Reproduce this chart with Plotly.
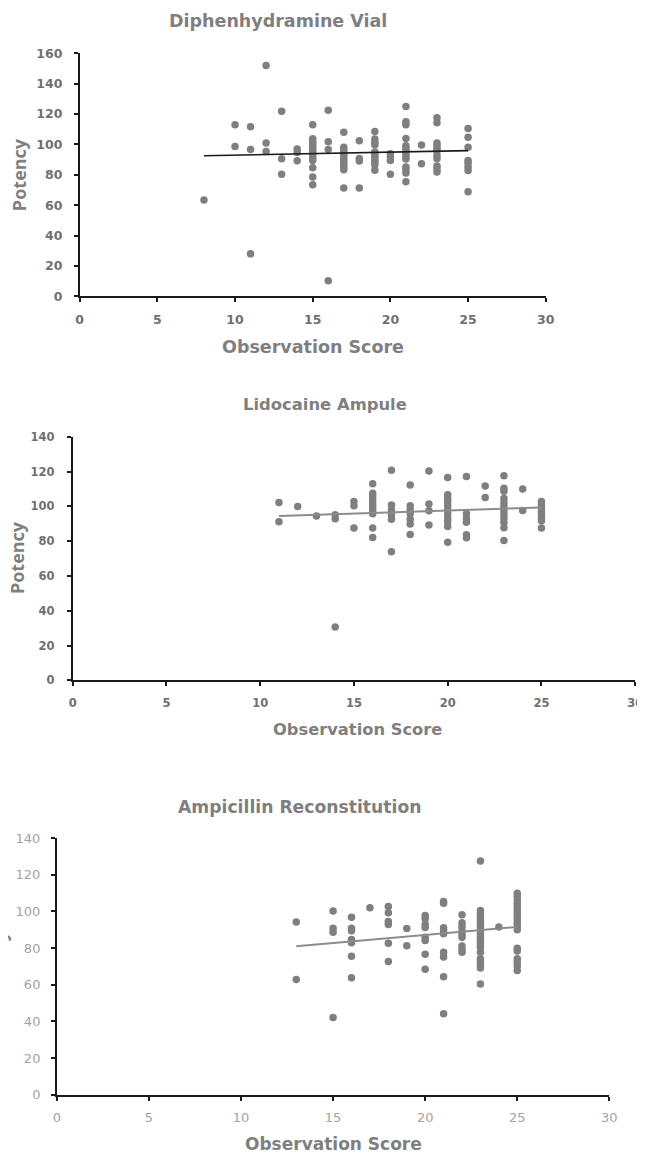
import plotly.graph_objects as go

W, H = 645, 1153

# ---------------- data ----------------
diph_x = [8, 10, 10, 11, 11, 11, 12, 12, 12, 13, 13, 13, 14, 14, 14,
          15, 15, 15, 15, 15, 15, 15, 15, 15, 15, 15, 15, 15, 15,
          16, 16, 16, 16,
          17, 17, 17, 17, 17, 17, 17, 17, 17, 17, 17, 17,
          18, 18, 18, 18,
          19, 19, 19, 19, 19, 19, 19, 19, 19, 19, 19,
          20, 20, 20, 20,
          21, 21, 21, 21, 21, 21, 21, 21, 21, 21, 21, 21, 21, 21,
          22, 22,
          23, 23, 23, 23, 23, 23, 23, 23, 23, 23, 23,
          25, 25, 25, 25, 25, 25, 25, 25]
diph_y = [63.5, 113, 98.7, 111.6, 96.7, 28, 151.9, 100.9, 95.4, 121.9, 90.6, 80.3, 97, 94.7, 89.3,
          113, 103.7, 102, 100.4, 98.7, 97, 95.6, 93.9, 92.3, 90.6, 89.5, 84.7, 78.6, 73.5,
          122.5, 101.8, 96.7, 10.3,
          108, 98.2, 96.7, 95, 93.2, 91.7, 89.9, 88.2, 86.4, 85.1, 83.4, 71.3,
          102.4, 90.8, 89.1, 71.3,
          108.5, 103.5, 101.5, 99.8, 95, 93.2, 91.7, 89.9, 88.2, 86.4, 83,
          93.9, 92.1, 89.5, 80.3,
          125, 114.9, 113, 103.9, 99.1, 97.4, 95.6, 93.9, 92.1, 90.4, 85.1, 83.4, 81.2, 75.5,
          99.6, 87.3,
          117.5, 114.2, 100.9, 99.1, 97.4, 95.6, 92.8, 90.6, 85.8, 84, 81.8,
          110.5, 104.8, 98.2, 89.5, 87.7, 85.1, 82.9, 68.9]
diph_trend_x = [8, 25]
diph_trend_y = [92.6, 95.9]

lido_x = [11, 11, 12, 13, 14, 14, 14, 15, 15, 15,
          16, 16, 16, 16, 16, 16, 16, 16, 16, 16,
          17, 17, 17, 17, 17, 17,
          18, 18, 18, 18, 18, 18, 18,
          19, 19, 19, 19,
          20, 20, 20, 20, 20, 20, 20, 20, 20, 20, 20,
          21, 21, 21, 21, 21, 21,
          22, 22,
          23, 23, 23, 23, 23, 23, 23, 23, 23, 23, 23, 23,
          24, 24,
          25, 25, 25, 25, 25, 25, 25, 25]
lido_y = [102.2, 91.1, 99.9, 94.5, 95.1, 92.8, 30.6, 102.8, 100.3, 87.5,
          113, 107.5, 105.6, 103.3, 101.4, 99.5, 97.6, 95.7, 87.5, 82.1,
          120.7, 100.8, 98, 95.1, 92.6, 73.9,
          112.2, 100.3, 98, 95.7, 92.6, 89.8, 83.8,
          120.3, 101.4, 97.4, 89.2,
          116.5, 106.6, 104.7, 102.8, 100.3, 98, 95.7, 93.2, 91.3, 88.4, 79.3,
          117.1, 95.7, 93.2, 90.9, 83.6, 81.9,
          111.7, 105,
          117.6, 110.4, 108.7, 104.5, 102.2, 99.9, 97.6, 95.3, 93, 90.7, 87.7, 80.4,
          110, 97.6,
          102.8, 100.8, 98.9, 97, 95.1, 93.2, 91.7, 87.5]
lido_trend_x = [11, 25]
lido_trend_y = [94.5, 99.3]

ampi_x = [13, 13, 15, 15, 15, 15,
          16, 16, 16, 16, 16, 16, 16,
          17,
          18, 18, 18, 18, 18, 18,
          19, 19,
          20, 20, 20, 20, 20, 20, 20, 20,
          21, 21, 21, 21, 21, 21, 21, 21, 21,
          22, 22, 22, 22, 22, 22, 22, 22, 22,
          23, 23, 23, 23, 23, 23, 23, 23, 23, 23, 23, 23, 23, 23, 23, 23, 23, 23, 23,
          24,
          25, 25, 25, 25, 25, 25, 25, 25, 25, 25, 25, 25, 25, 25, 25, 25, 25, 25]
ampi_y = [94.2, 62.9, 100.2, 90.9, 88.7, 42.2,
          96.9, 90.9, 89.5, 84.7, 82.9, 75.6, 63.8,
          102,
          102.7, 99.3, 94.5, 92.9, 82.7, 72.7,
          90.7, 81.3,
          97.8, 96, 92.9, 91.3, 86, 84.2, 76.7, 68.5,
          105.5, 104.5, 91.1, 89.5, 87.8, 77.8, 75.1, 64.4, 44.2,
          98.2, 93.8, 91.8, 89.5, 87.6, 86, 81.1, 79.3, 77.8,
          127.6, 100.5, 98.7, 96.9, 95.1, 93.3, 91.5, 89.6, 87.8, 86, 84.2, 82.4, 80.5, 77.8, 74.2, 72.4, 70.5, 69.1, 60.5,
          91.5,
          110, 108.2, 106.4, 104.5, 102.7, 100.9, 99.1, 97.3, 95.5, 93.6, 91.8, 90, 80, 78.5, 74.2, 72.4, 70.2, 67.8]
ampi_trend_x = [13, 25]
ampi_trend_y = [81.0, 91.6]

titles = ["Diphenhydramine Vial", "Lidocaine Ampule", "Ampicillin Reconstitution"]
x_title = "Observation Score"
y_title = "Potency"
x_ticks = [0, 5, 10, 15, 20, 25, 30]

# ---------------- layout helpers ----------------
HFONT = "DejaVu Sans"   # wide face for horizontal text (reference is stretched sideways)
VFONT = "Open Sans"
MARK = "#7f7f7f"
TXT = "#7f7f7f"

# calibration of the photographed page: screen px = A * figure px + B
AX, BX = 0.986, 9.9
AY, BY = 0.9875, 15.7


def px_x(p):
    return ((p - BX) / AX) / W


def px_y(p):
    return 1 - ((p - BY) / AY) / H


panels = [
    # x, y, trend x, trend y, trend colour, trend width, ymax, x-domain px, y-domain px (bottom, top),
    # tick colour, tick size, bold, x standoff, y standoff
    (diph_x, diph_y, diph_trend_x, diph_trend_y, "#1a1a1a", 1.6, 160, (78, 547), (296.5, 53),
     "#707070", 12.5, True, 7, 9),
    (lido_x, lido_y, lido_trend_x, lido_trend_y, "#8c8c8c", 2.0, 140, (71, 637), (681, 437),
     "#707070", 11.5, True, 7, 10),
    (ampi_x, ampi_y, ampi_trend_x, ampi_trend_y, "#8c8c8c", 2.0, 140, (55, 611), (1096, 839),
     "#a3a3a3", 13, False, 6, 8),
]

fig = go.Figure()
layout = dict(width=W, height=H, margin=dict(l=0, r=0, t=0, b=0),
              paper_bgcolor="white", plot_bgcolor="white", showlegend=False,
              font=dict(family=HFONT))

for i, (xs, ys, tx, ty, tc, tw, ymax, xd, yd, tickc, tsize, bold, xso, yso) in enumerate(panels):
    n = "" if i == 0 else str(i + 1)
    fig.add_trace(go.Scatter(x=xs, y=ys, mode="markers", xaxis="x" + n, yaxis="y" + n,
                             marker=dict(size=7.5, color=MARK), hoverinfo="skip", cliponaxis=False))
    fig.add_trace(go.Scatter(x=tx, y=ty, mode="lines", xaxis="x" + n, yaxis="y" + n,
                             line=dict(color=tc, width=tw), hoverinfo="skip"))
    tickfont = dict(family=HFONT, size=tsize, color=tickc)
    if bold:
        tickfont["weight"] = "bold"
    layout["xaxis" + n] = dict(domain=[px_x(xd[0]), px_x(xd[1])], anchor="y" + n,
                               range=[0, 30], tickvals=x_ticks, showgrid=False, zeroline=False,
                               showline=True, linecolor="#1a1a1a", linewidth=1.6,
                               ticks="outside", ticklen=4, tickcolor="#1a1a1a", tickwidth=1.5,
                               tickfont=tickfont, ticklabelstandoff=xso)
    layout["yaxis" + n] = dict(domain=[px_y(yd[0]), px_y(yd[1])], anchor="x" + n,
                               range=[0, ymax], dtick=20, showgrid=False, zeroline=False,
                               showline=True, linecolor="#1a1a1a", linewidth=1.6,
                               ticks="outside", ticklen=4, tickcolor="#1a1a1a", tickwidth=1.5,
                               tickfont=tickfont, ticklabelstandoff=yso)

ann = []
# chart titles
for txt, (cx, cy), sz in zip(titles, [(278, 21), (325, 405), (299, 808)], [17.5, 16.4, 17.2]):
    ann.append(dict(text="<b>%s</b>" % txt, x=px_x(cx), y=px_y(cy), xref="paper", yref="paper",
                    xanchor="center", yanchor="middle", showarrow=False,
                    font=dict(family=HFONT, size=sz, color=TXT)))
# x axis titles
for (cx, cy), sz in zip([(313, 347), (358, 730), (333, 1145)], [17.5, 16.3, 17]):
    ann.append(dict(text="<b>%s</b>" % x_title, x=px_x(cx), y=px_y(cy), xref="paper", yref="paper",
                    xanchor="center", yanchor="middle", showarrow=False,
                    font=dict(family=HFONT, size=sz, color=TXT)))
# y axis titles (the third one is mostly outside the picture, as in the reference)
for (cx, cy), sz in zip([(17, 175), (14.5, 558), (-2, 968)], [18, 18, 18]):
    ann.append(dict(text="<b>%s</b>" % y_title, x=px_x(cx), y=px_y(cy), xref="paper", yref="paper",
                    xanchor="center", yanchor="middle", showarrow=False, textangle=-90,
                    font=dict(family=VFONT, size=sz, color=TXT)))
layout["annotations"] = ann

fig.update_layout(**layout)
fig.write_html("out.html")
